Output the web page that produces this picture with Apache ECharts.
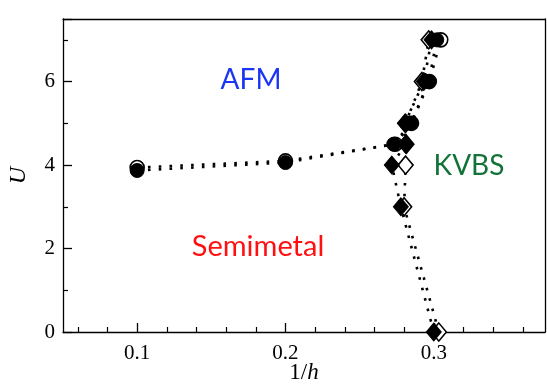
<!DOCTYPE html>
<html><head><meta charset="utf-8">
<script src="https://cdn.jsdelivr.net/npm/echarts@6/dist/echarts.min.js"></script>
<style>html,body{margin:0;padding:0;background:#fff}#c{width:547px;height:385px}</style>
</head><body><div id="c"></div>
<script>
// Data (1/h, U)
const circFilledX = [0.100, 0.200, 0.2730, 0.2845, 0.2966, 0.3020];
const circFilledU = [3.87, 4.06, 4.50, 5.00, 6.00, 7.00];
const circOpenX   = [0.100, 0.200, 0.2740, 0.2850, 0.2970, 0.3047];
const circOpenU   = [3.94, 4.10, 4.50, 5.00, 6.00, 7.00];
const diaFilledX  = [0.3000, 0.2778, 0.2717, 0.2810, 0.2805, 0.2933, 0.2985];
const diaFilledU  = [0.00, 3.00, 4.00, 4.50, 5.00, 6.00, 7.00];
const diaOpenX    = [0.3034, 0.2800, 0.2810, 0.2815, 0.2810, 0.2920, 0.2966];
const diaOpenU    = [0.00, 3.00, 4.00, 4.50, 5.00, 6.00, 7.00];
const xMajorTicks = [0.1, 0.2, 0.3];
const xMinorTicks = [0.06, 0.08, 0.12, 0.14, 0.16, 0.18, 0.22, 0.24, 0.26, 0.28, 0.32, 0.34, 0.36];
const regionLabels = ['AFM', 'KVBS', 'Semimetal'];

const pairs = (xs, ys) => xs.map((x, i) => [x, ys[i]]);
const serif = 'Liberation Serif, Times New Roman, serif';
const dotted = {color: '#000', width: 2.6, type: [2.6, 8.2]};
const sans = '"Lato", "Open Sans", sans-serif';

const chart = echarts.init(document.getElementById('c'), null, {renderer: 'canvas'});
chart.setOption({
  animation: false,
  grid: {left: 63, right: 2, top: 19, bottom: 53, containLabel: false, outerBoundsMode: 'none'},
  xAxis: [{
    type: 'value', min: 0.05, max: 0.375,
    name: '{n|1/}{i|h}', nameLocation: 'middle', nameGap: 29, nameMoveOverlap: false,
    nameTextStyle: {rich: {n: {fontFamily: serif, fontSize: 23, color: '#000'}, i: {fontFamily: serif, fontStyle: 'italic', fontSize: 23, color: '#000'}}},
    axisLine: {lineStyle: {color: '#000', width: 1.3}},
    axisTick: {inside: true, length: 9, customValues: xMajorTicks, lineStyle: {color: '#000', width: 1.3}},
    axisLabel: {customValues: xMajorTicks, fontFamily: serif, fontSize: 21, color: '#000', margin: 11},
    splitLine: {show: false}
  }, {
    type: 'value', min: 0.05, max: 0.375, position: 'bottom',
    axisLine: {show: false},
    axisTick: {inside: true, length: 5, customValues: xMinorTicks, lineStyle: {color: '#000', width: 1.2}},
    axisLabel: {show: false}, splitLine: {show: false}
  }, {
    type: 'value', min: 0.05, max: 0.375, position: 'top',
    axisLine: {show: true, lineStyle: {color: '#000', width: 1.3}},
    axisTick: {show: false}, axisLabel: {show: false}, splitLine: {show: false}
  }],
  yAxis: [{
    type: 'value', min: 0, max: 7.5, interval: 2,
    name: 'U', nameLocation: 'middle', nameGap: 32, nameRotate: 90, nameMoveOverlap: false,
    nameTextStyle: {fontFamily: serif, fontStyle: 'italic', fontSize: 24, color: '#000'},
    axisLine: {lineStyle: {color: '#000', width: 1.3}},
    axisTick: {inside: true, length: 9, lineStyle: {color: '#000', width: 1.3}},
    minorTick: {show: true, splitNumber: 2, length: 5, lineStyle: {color: '#000', width: 1.2}},
    axisLabel: {fontFamily: serif, fontSize: 21, color: '#000', margin: 8,
      formatter: v => (v % 2 === 0 ? String(v) : '')},
    splitLine: {show: false}
  }, {
    type: 'value', min: 0, max: 7.5, position: 'right',
    axisLine: {show: true, lineStyle: {color: '#000', width: 1.3}},
    axisTick: {show: false}, axisLabel: {show: false}, splitLine: {show: false}
  }],
  series: [
    {type: 'line', name: 'dia-open', data: pairs(diaOpenX, diaOpenU), symbol: 'diamond', symbolSize: [15, 18],
     itemStyle: {color: '#fff', borderColor: '#000', borderWidth: 1.6}, lineStyle: dotted, z: 2},
    {type: 'line', name: 'circ-open', data: pairs(circOpenX, circOpenU), symbol: 'circle', symbolSize: 14,
     itemStyle: {color: '#fff', borderColor: '#000', borderWidth: 1.6}, lineStyle: dotted, z: 2},
    {type: 'line', name: 'dia-filled', data: pairs(diaFilledX, diaFilledU), symbol: 'diamond', symbolSize: [15, 18],
     itemStyle: {color: '#000', borderColor: '#000', borderWidth: 1}, lineStyle: dotted, z: 3},
    {type: 'line', name: 'circ-filled', data: pairs(circFilledX, circFilledU), symbol: 'circle', symbolSize: 14,
     itemStyle: {color: '#000', borderColor: '#000', borderWidth: 1}, lineStyle: dotted, z: 3}
  ],
  graphic: [
    {type: 'text', x: 251, y: 80, style: {text: regionLabels[0], font: '28px ' + sans, fill: '#1a35f5', align: 'center', verticalAlign: 'middle'}},
    {type: 'text', x: 469, y: 166, style: {text: regionLabels[1], font: '28px ' + sans, fill: '#137237', align: 'center', verticalAlign: 'middle'}},
    {type: 'text', x: 258, y: 247, style: {text: regionLabels[2], font: '29px ' + sans, fill: '#ff1010', align: 'center', verticalAlign: 'middle'}}
  ]
});
</script>
</body></html>
